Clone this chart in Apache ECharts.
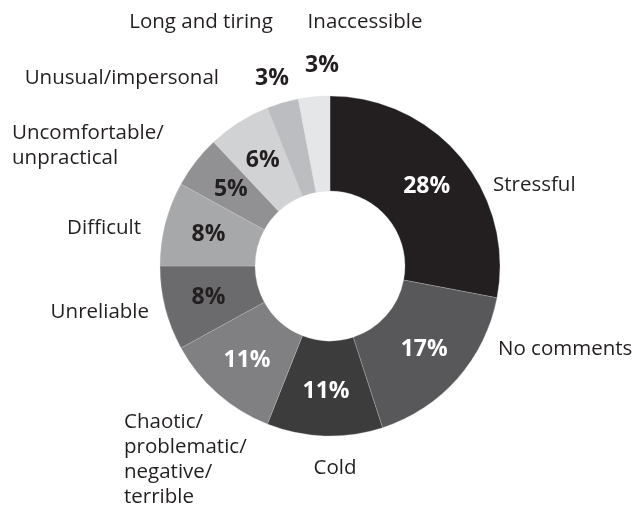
<!DOCTYPE html>
<html>
<head>
<meta charset="utf-8">
<script src="https://cdn.jsdelivr.net/npm/echarts@6/dist/echarts.min.js"></script>
<style>
  html, body { margin: 0; padding: 0; background: #fff; }
  #container { width: 632px; height: 510px; }
</style>
</head>
<body>
<div id="container"></div>
<script>
var myChart = echarts.init(document.getElementById('container'));

// categories, clockwise from 12 o'clock
var categories = ['Stressful', 'No comments', 'Cold', 'Chaotic/\nproblematic/\nnegative/\nterrible',
  'Unreliable', 'Difficult', 'Uncomfortable/\nunpractical', 'Unusual/impersonal',
  'Long and tiring', 'Inaccessible'];
var values = [28, 17, 11, 11, 8, 8, 5, 6, 3, 3];

var sliceColors = ['#231f20', '#58585a', '#3c3c3c', '#808083', '#6b6b6d',
  '#a7a8aa', '#919194', '#d1d2d3', '#bcbdc0', '#e5e6e7'];
var pctColors = ['#fff', '#fff', '#fff', '#fff', '#231f20',
  '#231f20', '#231f20', '#231f20', '#231f20', '#231f20'];

// where the name labels sit [x, y, align]
var nameSpots = [
  [493, 185, 'left'], [498, 349, 'left'], [335, 468, 'center'], [124, 460, 'left'],
  [149, 312, 'right'], [141, 228, 'right'], [12, 146, 'left'], [219, 78, 'right'],
  [201, 22, 'center'], [365, 22, 'center']
];
// small slices get their percentage outside the ring
var pctSpots = { 8: [272, 78], 9: [322, 65] };

var fontFam = '"Open Sans", "Noto Sans", sans-serif';

var pieData = categories.map(function(c, i) {
  return {
    name: c,
    value: values[i],
    itemStyle: { color: sliceColors[i] },
    label: { color: pctColors[i] }
  };
});

var option = {
  animation: false,
  backgroundColor: '#fff',
  series: [
    {
      type: 'pie',
      center: [330, 266],
      radius: [75, 170],
      startAngle: 90,
      avoidLabelOverlap: false,
      itemStyle: { borderColor: '#d0d0d0', borderWidth: 0.3 },
      label: {
        show: true,
        position: 'inside',
        formatter: '{c}%',
        fontFamily: fontFam,
        fontWeight: 'bold',
        fontSize: 23
      },
      labelLine: { show: false },
      labelLayout: function(p) {
        var s = pctSpots[p.dataIndex];
        if (!s) return {};
        return { x: s[0], y: s[1], align: 'center', verticalAlign: 'middle' };
      },
      data: pieData
    },
    {
      type: 'pie',
      silent: true,
      center: [330, 266],
      radius: [75, 170],
      startAngle: 90,
      avoidLabelOverlap: false,
      itemStyle: { color: 'rgba(0,0,0,0)' },
      label: {
        show: true,
        position: 'outside',
        formatter: '{b}',
        color: '#231f20',
        fontFamily: fontFam,
        fontSize: 20.5,
        lineHeight: 25
      },
      labelLine: { show: false },
      labelLayout: function(p) {
        var s = nameSpots[p.dataIndex];
        return { x: s[0], y: s[1], align: s[2], verticalAlign: 'middle' };
      },
      data: categories.map(function(c, i) { return { name: c, value: values[i] }; })
    }
  ]
};

myChart.setOption(option);
</script>
</body>
</html>
